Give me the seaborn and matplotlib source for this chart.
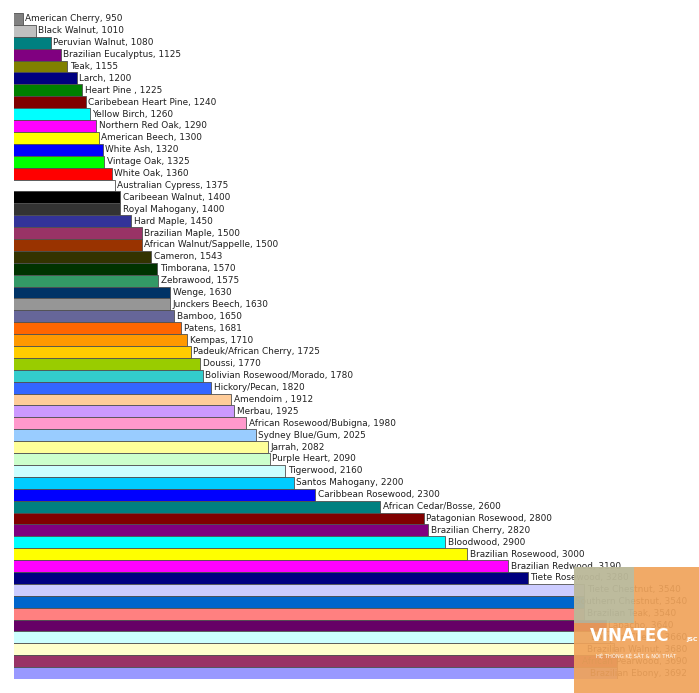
import matplotlib
matplotlib.use("Agg")
import matplotlib.pyplot as plt
import seaborn as sns
from matplotlib.patches import Rectangle

# Janka hardness values, top to bottom as in the chart
woods = [
    "American Cherry", "Black Walnut", "Peruvian Walnut", "Brazilian Eucalyptus", "Teak",
    "Larch", "Heart Pine ", "Caribebean Heart Pine", "Yellow Birch", "Northern Red Oak",
    "American Beech", "White Ash", "Vintage Oak", "White Oak", "Australian Cypress",
    "Caribeean Walnut", "Royal Mahogany", "Hard Maple", "Brazilian Maple", "African Walnut/Sappelle",
    "Cameron", "Timborana", "Zebrawood", "Wenge", "Junckers Beech",
    "Bamboo", "Patens", "Kempas", "Padeuk/African Cherry", "Doussi",
    "Bolivian Rosewood/Morado", "Hickory/Pecan", "Amendoim ", "Merbau", "African Rosewood/Bubigna",
    "Sydney Blue/Gum", "Jarrah", "Purple Heart", "Tigerwood", "Santos Mahogany",
    "Caribbean Rosewood", "African Cedar/Bosse", "Patagonian Rosewood", "Brazilian Cherry", "Bloodwood",
    "Brazilian Rosewood", "Brazilian Redwood", "Tiete Rosewood", "Tiete Chestnut", "Southern Chestnut",
    "Brazilian Teak", "Lapacho", "Bolivian Cherry", "Brazilian Walnut", "African Pearwood",
    "Brazilian Ebony",
]
hardness = [
    950, 1010, 1080, 1125, 1155,
    1200, 1225, 1240, 1260, 1290,
    1300, 1320, 1325, 1360, 1375,
    1400, 1400, 1450, 1500, 1500,
    1543, 1570, 1575, 1630, 1630,
    1650, 1681, 1710, 1725, 1770,
    1780, 1820, 1912, 1925, 1980,
    2025, 2082, 2090, 2160, 2200,
    2300, 2600, 2800, 2820, 2900,
    3000, 3190, 3280, 3540, 3540,
    3540, 3640, 3660, 3680, 3690,
    3692,
]
# old Excel chart palette, used in reverse order
bar_colors = [
    "#808080", "#C0C0C0", "#008080", "#800080", "#808000",
    "#000080", "#008000", "#800000", "#00FFFF", "#FF00FF",
    "#FFFF00", "#0000FF", "#00FF00", "#FF0000", "#FFFFFF",
    "#000000", "#333333", "#333399", "#993366", "#993300",
    "#333300", "#003300", "#339966", "#003366", "#969696",
    "#666699", "#FF6600", "#FF9900", "#FFCC00", "#99CC00",
    "#33CCCC", "#3366FF", "#FFCC99", "#CC99FF", "#FF99CC",
    "#99CCFF", "#FFFF99", "#CCFFCC", "#CCFFFF", "#00CCFF",
    "#0000FF", "#008080", "#800000", "#800080", "#00FFFF",
    "#FFFF00", "#FF00FF", "#000080", "#CCCCFF", "#0066CC",
    "#FF8080", "#660066", "#CCFFFF", "#FFFFCC", "#993366",
    "#9999FF",
]

fig = plt.figure(figsize=(6.99, 6.93), dpi=100)
ax = fig.add_axes([14 / 699, 1 - 679 / 693, 1 - 14 / 699, 666 / 693])

sns.barplot(x=hardness, y=woods, hue=woods, palette=bar_colors, legend=False, saturation=1,
            orient="h", width=1.0, edgecolor="#505050", linewidth=0.6, ax=ax)

xmin, xmax = 910, 4070
ax.set_xlim(xmin, xmax)
ax.set_ylim(len(woods) - 0.5, -0.5)
ax.axis("off")

# labels next to the bar end, pushed back inside the picture when too long
renderer = fig.canvas.get_renderer()
inv = ax.transData.inverted()
for i, (name, val) in enumerate(zip(woods, hardness)):
    t = ax.text(val + 12, i, f"{name}, {val}", va="center", ha="left",
                fontsize=6.4, color="#202020", family="DejaVu Sans")
    bb = t.get_window_extent(renderer)
    right = inv.transform((bb.x1, 0))[0]
    limit = inv.transform((fig.bbox.width - 12, 0))[0]
    if right > limit:
        t.set_ha("right")
        t.set_x(limit)

# watermark logo in the corner
fig.patches.append(Rectangle((574 / 699, 0), 125 / 699, 126 / 693, transform=fig.transFigure,
                             facecolor="#f0a35a", edgecolor="none", alpha=0.92, zorder=5))
fig.patches.append(Rectangle((574 / 699, 70 / 693), 60 / 699, 56 / 693, transform=fig.transFigure,
                             facecolor="#7fd0e0", edgecolor="none", alpha=0.45, zorder=6))
fig.text(630 / 699, 1 - 636 / 693, "VINATEC", ha="center", va="center", color="white",
         fontsize=12, fontweight="bold", zorder=7)
fig.text(686 / 699, 1 - 640 / 693, "JSC", ha="left", va="center", color="white",
         fontsize=4.5, fontweight="bold", zorder=7)
fig.text(636 / 699, 1 - 656 / 693, "HỆ THỐNG KỆ SẮT & NỘI THẤT", ha="center", va="center",
         color="white", fontsize=3.8, zorder=7)

fig.savefig("out.png", dpi=100, facecolor="white")
